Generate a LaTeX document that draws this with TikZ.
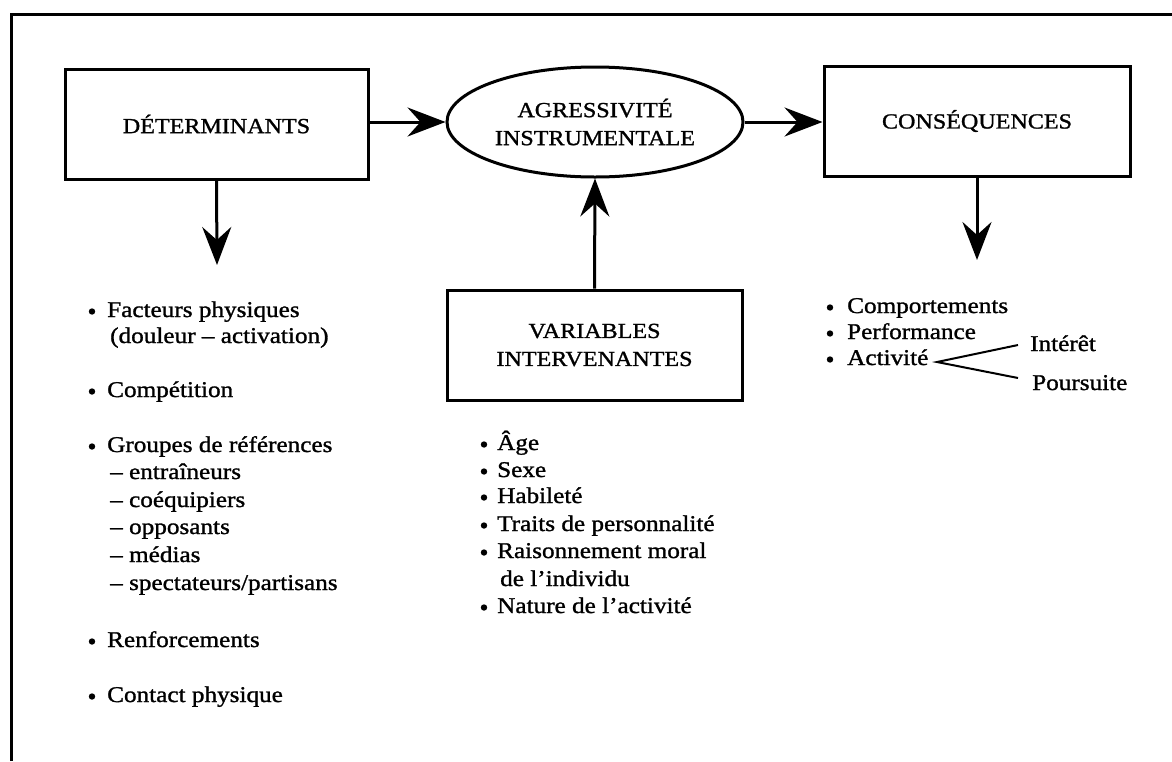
\documentclass[tikz,border=0pt]{standalone}
\usepackage{fontspec}
\setmainfont{Liberation Serif}[FakeStretch=1.12,FakeBold=1.2]
\usetikzlibrary{arrows.meta,shapes.geometric}
\begin{document}
\begin{tikzpicture}[x=1pt,y=-1pt,
  every node/.style={font=\fontsize{22.5}{27}\selectfont, inner sep=0pt},
  heading/.style={font=\fontsize{21.5}{28}\selectfont, align=center},
  panel/.style={heading, draw, line width=3pt, rectangle, minimum height=110pt},
  oval/.style={heading, draw, line width=3pt, ellipse, minimum width=296pt, minimum height=110pt},
  flow/.style={line width=3pt, -{Stealth[length=38pt,width=29pt,inset=13pt]}},
  forkline/.style={line width=2pt},
  entry/.style={anchor=base west},
  dot/.style={fill=black}]
\useasboundingbox (0,0) rectangle (1172,761);
% open frame: left side and top
\draw[line width=3pt] (11.5,761) -- (11.5,14.5) -- (1172,14.5);

% main blocks
\node[panel, minimum width=303pt] (det) at (216.5,124) {DÉTERMINANTS};
\node[oval] (agg) at (595,122) {AGRESSIVITÉ\\INSTRUMENTALE};
\node[panel, minimum width=306pt] (cons) at (977,121) {CONSÉQUENCES};
\node[panel, minimum width=295pt] (var) at (594.5,345) {VARIABLES\\INTERVENANTES};

% connectors
\coordinate (detout) at (217,265);
\coordinate (consout) at (977,260);
\draw[flow] (det.east |- agg) -- (agg.west);
\draw[flow] (agg.east) -- (cons.west |- agg);
\draw[flow] (det.south) -- (detout);
\draw[flow] (cons.south) -- (consout);
\draw[flow] (var.north) -- (agg.south);

% determinants
\node[entry] (l1)  at (107,317) {Facteurs physiques};
\node[entry] (l1b) at (110,343) {(douleur – activation)};
\node[entry] (l2)  at (107,397) {Compétition};
\node[entry] (l3)  at (107,452) {Groupes de références};
\node[entry] (l3a) at (110,479) {– entraîneurs};
\node[entry] (l3b) at (110,507) {– coéquipiers};
\node[entry] (l3c) at (110,534) {– opposants};
\node[entry] (l3d) at (110,562) {– médias};
\node[entry] (l3e) at (110,590) {– spectateurs/partisans};
\node[entry] (l4)  at (107,647) {Renforcements};
\node[entry] (l5)  at (107,702) {Contact physique};
\foreach \b in {317,397,452,647,702}
  \fill[dot] (92,\b-5.5) circle (3.2pt);

% intervening variables
\node[entry] (m1)  at (497,450) {Âge};
\node[entry] (m2)  at (497,477) {Sexe};
\node[entry] (m3)  at (497,503) {Habileté};
\node[entry] (m4)  at (497,531) {Traits de personnalité};
\node[entry] (m5)  at (497,558) {Raisonnement moral};
\node[entry] (m5b) at (500,586) {de l'individu};
\node[entry] (m6)  at (497,613) {Nature de l'activité};
\foreach \b in {450,477,503,531,558,613}
  \fill[dot] (484,\b-5.5) circle (3.2pt);

% consequences
\node[entry] (r1) at (847,313) {Comportements};
\node[entry] (r2) at (847,339) {Performance};
\node[entry] (r3) at (847,365) {Activité};
\foreach \b in {313,339,365}
  \fill[dot] (830,\b-5.5) circle (3.2pt);
\node[entry] (intr)  at (1030,351) {Intérêt};
\node[entry] (pours) at (1032,390) {Poursuite};
\coordinate (fork) at (937,362);
\coordinate (forkA) at (1018,345);
\coordinate (forkB) at (1018,378);
\draw[forkline] (forkA) -- (fork) -- (forkB);
\end{tikzpicture}
\end{document}
